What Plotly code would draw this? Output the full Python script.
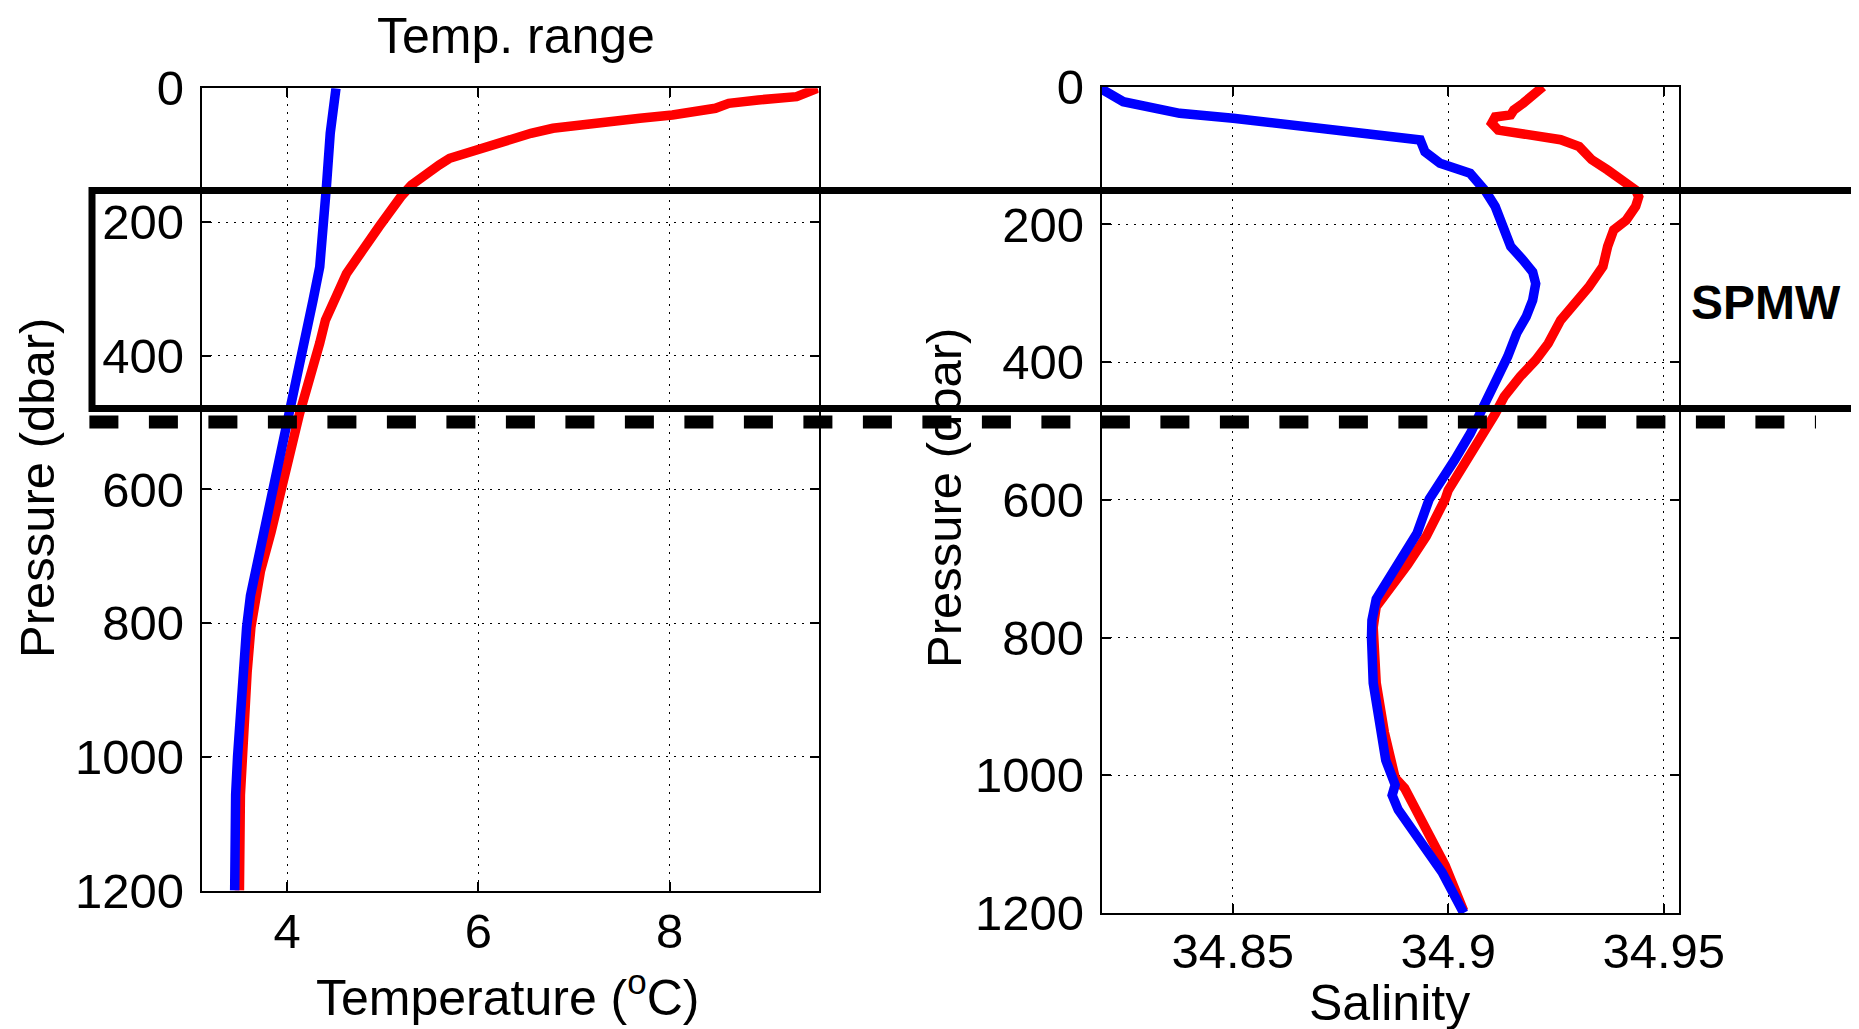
import plotly.graph_objects as go

# ---------------- data ----------------
# Temperature profiles (left panel)
temp_red_T = [9.55, 9.33, 8.93, 8.62, 8.48, 8.31, 8.03, 7.69, 7.35, 7.01, 6.78, 6.55, 6.32, 5.98,
              5.70, 5.59, 5.47, 5.30, 5.19, 5.08, 4.96, 4.79, 4.62, 4.51, 4.40, 4.34, 4.26, 4.20,
              4.13, 3.97, 3.94, 3.83, 3.72, 3.66, 3.62, 3.58, 3.54, 3.52, 3.51, 3.50]
temp_red_P = [0, 12.5, 17.4, 22.4, 29.9, 34.9, 39.9, 44.9, 49.9, 56.3, 59.8, 67.3, 77.3, 89.7,
              104.7, 114.7, 127.1, 144.6, 162, 182, 207, 242, 277, 312, 346.5, 381, 416, 451,
              486, 586, 600, 664, 722, 764, 806, 874, 952, 1000, 1057, 1200]

temp_blue_T = [4.51, 4.45, 4.41, 4.38, 4.34, 4.27, 4.20, 4.11, 4.04, 3.88, 3.77, 3.66, 3.615,
               3.575, 3.535, 3.50, 3.48, 3.46, 3.45]
temp_blue_P = [0, 67, 147, 201, 267, 317, 366, 416, 479, 586, 664, 733, 759,
               806, 874, 952, 1000, 1057, 1200]

# Salinity profiles (right panel)
sal_blue_S = [34.8196, 34.8200, 34.8246, 34.8308, 34.8377, 34.8501, 34.8610, 34.8764, 34.8935,
              34.8946, 34.8981, 34.9051, 34.9074, 34.9087, 34.9109, 34.9123, 34.9128, 34.9145,
              34.9174, 34.9196, 34.9203, 34.9196, 34.9181, 34.9159, 34.9138, 34.9116, 34.9094,
              34.9073, 34.9051, 34.9015, 34.8978, 34.8956, 34.8928, 34.8891, 34.8862, 34.8833,
              34.8823, 34.8822, 34.8826, 34.8841, 34.8855, 34.8877, 34.8870, 34.8884, 34.8928,
              34.8986, 34.9036]
sal_blue_P = [0, 5, 21.8, 31.4, 38.6, 45.9, 53.2, 62.9, 77.4,
              94.4, 111.3, 125.8, 139.9, 152, 174, 194, 208, 232,
              252, 269, 286, 310, 334, 358, 392, 421, 455,
              479, 504, 542, 576, 599, 648, 683, 714, 744,
              775, 800, 866, 927, 978, 1014, 1029, 1050, 1090,
              1141, 1200]

sal_red_S = [34.9220, 34.9196, 34.9174, 34.9152, 34.9145, 34.9109, 34.9101, 34.9116, 34.9188,
             34.9261, 34.9304, 34.9326, 34.9333, 34.9370, 34.9406, 34.9435, 34.9442, 34.9435,
             34.9413, 34.9384, 34.9370, 34.9359, 34.9326, 34.9283, 34.9261, 34.9232, 34.9203,
             34.9167, 34.9130, 34.9109, 34.9080, 34.9044, 34.9000, 34.8993, 34.8949, 34.8906,
             34.8862, 34.8833, 34.8826, 34.8833, 34.8852, 34.8877, 34.8899, 34.8942, 34.8993,
             34.9036]
sal_red_P = [0, 15, 24, 34, 41, 44, 53, 63, 70,
             77, 87, 99, 106, 121, 135, 150, 160, 174,
             194, 208, 232, 261, 291, 320, 339, 373, 397,
             421, 450, 475, 504, 542, 586, 599, 653, 694,
             729, 755, 785, 866, 938, 1004, 1019, 1070, 1131,
             1197]

# Tick values / labels
p_ticks = [0, 200, 400, 600, 800, 1000, 1200]
t_ticks = [4, 6, 8]
s_ticks = [34.85, 34.9, 34.95]
s_tick_text = ["34.85", "34.9", "34.95"]

# SPMW layer bounds (dbar) and dashed reference depth
spmw_top, spmw_bottom = 153, 479
ref_depth = 499

FONT = "Liberation Sans, Arial, Helvetica, sans-serif"
# the page body has an 8px default margin: size the figure to fill the window
OX, OY = 8, 8
W, H = 1859 - OX, 1029 - OY


def px(x):
    return (x - OX) / W


def py(y):
    return 1 - (y - OY) / H


LW = 9.5
fig = go.Figure()
fig.add_trace(go.Scatter(x=temp_red_T, y=temp_red_P, mode="lines",
                         line=dict(color="#ff0000", width=LW), xaxis="x", yaxis="y",
                         showlegend=False))
fig.add_trace(go.Scatter(x=temp_blue_T, y=temp_blue_P, mode="lines",
                         line=dict(color="#0000ff", width=LW), xaxis="x", yaxis="y",
                         showlegend=False))
fig.add_trace(go.Scatter(x=sal_red_S, y=sal_red_P, mode="lines",
                         line=dict(color="#ff0000", width=LW), xaxis="x2", yaxis="y2",
                         showlegend=False))
fig.add_trace(go.Scatter(x=sal_blue_S, y=sal_blue_P, mode="lines",
                         line=dict(color="#0000ff", width=LW), xaxis="x2", yaxis="y2",
                         showlegend=False))

axis_common = dict(
    showline=True, linecolor="black", linewidth=2, mirror="ticks",
    ticks="inside", ticklen=9, tickwidth=1.5, tickcolor="black",
    showgrid=True, gridcolor="black", gridwidth=1.2, griddash="2px,6px",
    zeroline=False, tickfont=dict(family=FONT, size=49, color="black"),
    automargin=False,
)

fig.update_layout(
    width=W, height=H,
    margin=dict(l=0, r=0, t=0, b=0),
    paper_bgcolor="white", plot_bgcolor="white",
    xaxis=dict(domain=[px(201.7), px(818.6)], range=[3.105, 9.56], anchor="y",
               tickvals=t_ticks, ticklabelstandoff=-3, **axis_common),
    yaxis=dict(domain=[py(890.6), py(88.3)], range=[1200, 0], anchor="x",
               tickvals=p_ticks, ticklabelstandoff=6, **axis_common),
    xaxis2=dict(domain=[px(1101.7), px(1679.2)], range=[34.8196, 34.9536], anchor="y2",
                tickvals=s_ticks, ticktext=s_tick_text, ticklabelstandoff=-6, **axis_common),
    yaxis2=dict(domain=[py(913), py(86.7)], range=[1200, 0], anchor="x2",
                tickvals=p_ticks, ticklabelstandoff=6, **axis_common),
)

# SPMW box (open on the right, runs off the figure) and dashed line
fig.add_shape(type="path", xref="paper", yref="y",
              path=f"M 1.05,{spmw_top} L {px(92)},{spmw_top} L {px(92)},{spmw_bottom} L 1.05,{spmw_bottom}",
              line=dict(color="black", width=7), layer="above")
fig.add_shape(type="line", xref="paper", yref="y",
              x0=px(89.4), x1=px(1816), y0=ref_depth, y1=ref_depth,
              line=dict(color="black", width=13, dash="29px,30.5px"), layer="above")

ann = [
    dict(text="Temp. range", x=516, y=36, size=50),
    dict(text="Temperature (<sup>o</sup>C)", x=507, y=994, size=50),
    dict(text="Salinity", x=1389, y=1003, size=50),
    dict(text="<b>SPMW</b>", x=1766, y=302, size=48),
]
for a in ann:
    fig.add_annotation(text=a["text"], x=px(a["x"]), y=py(a["y"]), xref="paper", yref="paper",
                       showarrow=False, xanchor="center", yanchor="middle",
                       font=dict(family=FONT, size=a["size"], color="black"))
for xc, yc in [(37, 488), (944, 498)]:
    fig.add_annotation(text="Pressure (dbar)", x=px(xc), y=py(yc), xref="paper", yref="paper",
                       showarrow=False, textangle=-90, xanchor="center", yanchor="middle",
                       font=dict(family=FONT, size=49, color="black"))

fig.write_html("out.html")
